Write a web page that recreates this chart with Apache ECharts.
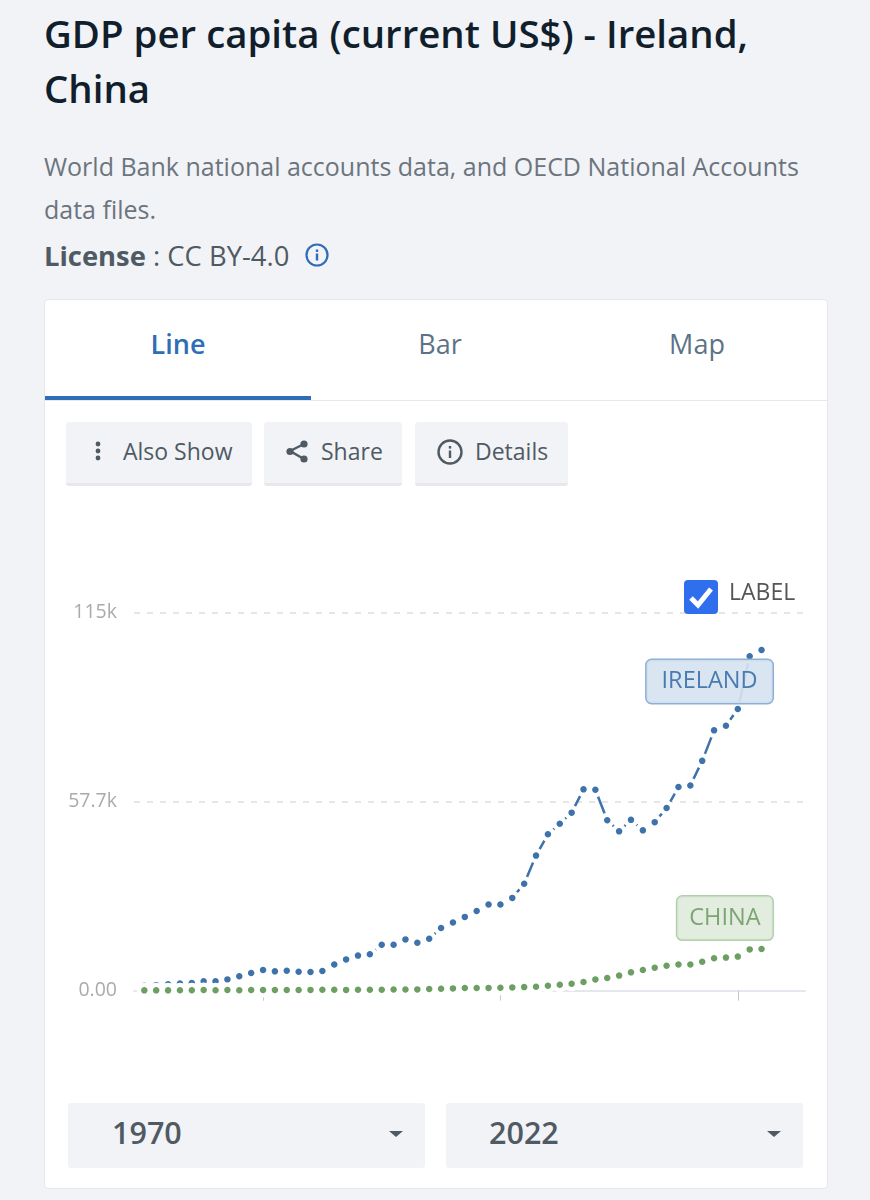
<!DOCTYPE html>
<html>
<head>
<meta charset="utf-8">
<script src="https://cdn.jsdelivr.net/npm/echarts@6/dist/echarts.min.js"></script>
<style>
  html, body { margin: 0; padding: 0; }
  body { width: 870px; height: 1200px; background: #f1f3f7; overflow: hidden; position: relative; font-family: "Open Sans", sans-serif; }
  .abs { position: absolute; white-space: nowrap; }
  .title { left: 44px; top: 6px; font-size: 38.4px; line-height: 55px; font-weight: 600; color: #111e2c; }
  .desc { left: 44px; top: 145px; font-size: 25px; line-height: 43px; color: #6c757d; }
  .license { left: 44px; top: 234px; font-size: 27.4px; line-height: 43px; color: #4f5a63; }
  .card { left: 44px; top: 299px; width: 782px; height: 888px; background: #fff; border: 1px solid #e4e7eb; border-radius: 4px; }
  .tab { top: 322px; font-size: 27px; line-height: 44px; color: #5c7387; transform: translateX(-50%); }
  .tabline { left: 45px; top: 400px; width: 782px; height: 1px; background: #e6e8ec; }
  .tabactive { left: 45px; top: 396px; width: 266px; height: 4px; background: #2f6db5; }
  .btn { top: 422px; height: 61px; background: #f1f3f7; border-bottom: 3px solid #e6e8ec; border-radius: 3px; }
  .btntxt { top: 431px; font-size: 23px; line-height: 40px; color: #4f5a63; }
  .select { top: 1103px; width: 357px; height: 65px; background: #f1f3f7; border-radius: 3px; }
  .seltxt { top: 1110px; font-size: 30.5px; line-height: 44px; font-weight: 600; color: #4f5a63; }
  .caret { top: 1131px; width: 0; height: 0; border-left: 7px solid transparent; border-right: 7px solid transparent; border-top: 6px solid #4f5a63; }
  #chart { position: absolute; left: 44px; top: 520px; width: 784px; height: 570px; }
  .labeltxt { left: 729px; top: 573px; font-size: 23px; line-height: 36px; color: #555; }
</style>
</head>
<body>
<div class="abs title">GDP per capita (current US$) - Ireland,<br>China</div>
<div class="abs desc">World Bank national accounts data, and OECD National Accounts<br>data files.</div>
<div class="abs license"><b>License</b> : CC BY-4.0</div>
<svg class="abs" style="left:304px;top:242px" width="26" height="26" viewBox="0 0 26 26">
  <circle cx="13" cy="13" r="10.5" fill="none" stroke="#2f6db5" stroke-width="2.2"/>
  <rect x="11.8" y="11.5" width="2.4" height="7" fill="#2f6db5"/><rect x="11.8" y="7.5" width="2.4" height="2.4" fill="#2f6db5"/>
</svg>

<div class="abs card"></div>
<div class="abs tab" style="left:178px;color:#2f6db5;font-weight:600">Line</div>
<div class="abs tab" style="left:440px">Bar</div>
<div class="abs tab" style="left:697px">Map</div>
<div class="abs tabline"></div>
<div class="abs tabactive"></div>

<div class="abs btn" style="left:66px;width:186px"></div>
<div class="abs btn" style="left:264px;width:138px"></div>
<div class="abs btn" style="left:415px;width:153px"></div>
<svg class="abs" style="left:90px;top:440px" width="16" height="24"><circle cx="8" cy="4" r="2.4" fill="#4f5a63"/><circle cx="8" cy="11" r="2.4" fill="#4f5a63"/><circle cx="8" cy="18" r="2.4" fill="#4f5a63"/></svg>
<div class="abs btntxt" style="left:123px">Also Show</div>
<svg class="abs" style="left:284px;top:438px" width="26" height="26"><path d="M20 6 L6 13 L20 21" fill="none" stroke="#4f5a63" stroke-width="2.4"/><circle cx="20" cy="6" r="3.6" fill="#4f5a63"/><circle cx="6" cy="13.5" r="3.6" fill="#4f5a63"/><circle cx="20" cy="21" r="3.6" fill="#4f5a63"/></svg>
<div class="abs btntxt" style="left:321px">Share</div>
<svg class="abs" style="left:436px;top:438px" width="28" height="28"><circle cx="14" cy="14" r="11.5" fill="none" stroke="#4f5a63" stroke-width="2.4"/><rect x="12.8" y="12.5" width="2.4" height="7.5" fill="#4f5a63"/><rect x="12.8" y="8" width="2.4" height="2.6" fill="#4f5a63"/></svg>
<div class="abs btntxt" style="left:475px">Details</div>

<div id="chart"></div>

<svg class="abs" style="left:684px;top:580px" width="34" height="34"><rect width="34" height="34" rx="4" fill="#2f6fed"/><path d="M7 18 L14 25 L27 9" fill="none" stroke="#fff" stroke-width="5"/></svg>
<div class="abs labeltxt">LABEL</div>

<div class="abs select" style="left:68px"></div>
<div class="abs select" style="left:446px"></div>
<div class="abs seltxt" style="left:112px">1970</div>
<div class="abs seltxt" style="left:489px">2022</div>
<div class="abs caret" style="left:389px"></div>
<div class="abs caret" style="left:767px"></div>

<script>
// GDP per capita, in thousands of US$
const years = [1970, 1971, 1972, 1973, 1974, 1975, 1976, 1977, 1978, 1979,
  1980, 1981, 1982, 1983, 1984, 1985, 1986, 1987, 1988, 1989,
  1990, 1991, 1992, 1993, 1994, 1995, 1996, 1997, 1998, 1999,
  2000, 2001, 2002, 2003, 2004, 2005, 2006, 2007, 2008, 2009,
  2010, 2011, 2012, 2013, 2014, 2015, 2016, 2017, 2018, 2019,
  2020, 2021, 2022];
const ireland = [1.5, 1.7, 1.95, 2.2, 2.35, 2.85, 2.85, 3.45, 4.4, 5.4,
  6.3, 5.9, 6.1, 5.8, 5.7, 6.0, 8.0, 9.55, 10.7, 11.1,
  14.0, 14.0, 15.65, 14.6, 15.85, 19.1, 20.8, 22.5, 24.3, 26.3,
  26.3, 28.3, 32.6, 41.2, 47.7, 50.9, 54.3, 61.4, 61.3, 52.0,
  48.6, 52.1, 48.9, 51.4, 55.7, 62.1, 62.6, 70.1, 79.4, 80.8,
  85.9, 102, 103.9];
const china = [0.1, 0.1, 0.1, 0.15, 0.15, 0.2, 0.15, 0.2, 0.15, 0.2,
  0.2, 0.2, 0.2, 0.2, 0.25, 0.3, 0.3, 0.25, 0.3, 0.3,
  0.3, 0.35, 0.35, 0.4, 0.5, 0.6, 0.7, 0.8, 0.8, 0.85,
  0.9, 1.0, 1.1, 1.2, 1.5, 1.8, 2.1, 2.65, 3.45, 3.85,
  4.6, 5.6, 6.3, 7.0, 7.6, 8.0, 8.0, 8.85, 9.9, 10.1,
  10.4, 12.6, 12.7];
const yTicks = [0, 57.7, 115.4];
const xTicks = [1980, 2000, 2020];

const myChart = echarts.init(document.getElementById('chart'));

function makeSeries(name, values, color, label) {
  return {
    name: name,
    type: 'line',
    data: years.map((y, i) => [y, values[i]]),
    symbol: 'circle',
    symbolSize: 10.75,
    showSymbol: true,
    clip: false,
    lineStyle: { color: color, width: 2.5 },
    // white ring round each dot, it eats the line on short segments
    itemStyle: { color: color, borderColor: '#fff', borderWidth: 4.25 },
    endLabel: Object.assign({
      show: true,
      formatter: name,
      fontFamily: 'Open Sans',
      fontSize: 23.5,
      borderWidth: 1.5,
      borderRadius: 5,
      align: 'right',
      verticalAlign: 'middle',
      lineHeight: 39
    }, label)
  };
}

myChart.setOption({
  animation: false,
  grid: { left: 90, right: 23, top: 92.3, bottom: 99.3 },
  xAxis: {
    type: 'value',
    min: 1969.13,
    max: 2025.66,
    axisLine: { show: true, onZero: true, lineStyle: { color: '#e4e8ee', width: 2 } },
    axisTick: { show: true, customValues: xTicks, length: 10, lineStyle: { color: '#c8c8c8', width: 1 } },
    axisLabel: { show: false },
    splitLine: { show: false }
  },
  yAxis: {
    type: 'value',
    min: 0,
    max: 115.4,
    interval: 57.7,
    axisLine: { show: false },
    axisTick: { show: false },
    axisLabel: {
      margin: 17,
      color: '#aaa',
      fontFamily: 'Open Sans',
      fontSize: 19.5,
      padding: [4, 0, 0, 0],
      formatter: v => yTicks.indexOf(v) === 0 ? '0.00' : (v === 115.4 ? '115k' : v + 'k')
    },
    splitLine: { show: true, lineStyle: { color: '#e6e6e6', width: 2, type: [6, 7] } }
  },
  series: [
    makeSeries('IRELAND', ireland, '#3d72ab', {
      color: '#4a7bb0',
      backgroundColor: 'rgba(214,227,240,0.92)',
      borderColor: '#8fb0d6',
      padding: [4, 15, 0, 15],
      offset: [3, 31.5]
    }),
    makeSeries('CHINA', china, '#6d9f63', {
      color: '#7da574',
      backgroundColor: 'rgba(223,234,220,0.92)',
      borderColor: '#b3d0ad',
      padding: [4, 12, 0, 12],
      offset: [3, -31]
    })
  ]
});
</script>
</body>
</html>
